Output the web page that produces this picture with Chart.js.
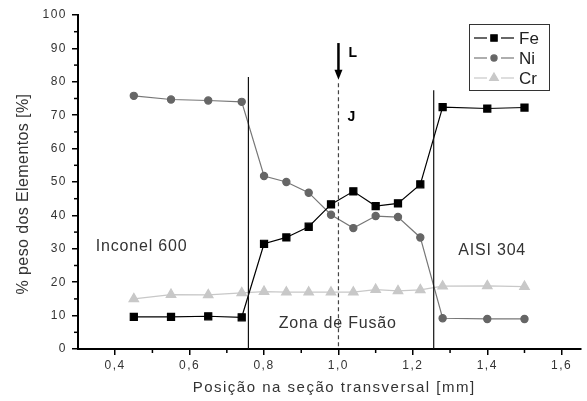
<!DOCTYPE html>
<html>
<head>
<meta charset="utf-8">
<script src="https://cdn.jsdelivr.net/npm/chart.js@4"></script>
<style>
  html, body { margin: 0; padding: 0; background: #fff; }
  #box { width: 587px; height: 401px; position: relative; }
</style>
</head>
<body>
<div id="box"><canvas id="myChart"></canvas></div>
<script>
// posição (mm) e % peso
const positions = [0.45, 0.55, 0.65, 0.74, 0.80, 0.86, 0.92, 0.98, 1.04, 1.10, 1.16, 1.22, 1.28, 1.40, 1.50];
const fe = [9.6, 9.6, 9.8, 9.5, 31.5, 33.4, 36.6, 43.3, 47.2, 42.8, 43.6, 49.3, 72.4, 72.0, 72.3];
const ni = [75.8, 74.7, 74.4, 74.0, 51.8, 50.0, 46.8, 40.2, 36.2, 39.8, 39.5, 33.4, 9.2, 9.0, 9.0];
const cr = [15.0, 16.3, 16.2, 16.8, 17.2, 17.0, 17.0, 17.0, 17.0, 17.8, 17.4, 17.7, 18.8, 18.9, 18.7];

const xTicks = [0.4, 0.6, 0.8, 1.0, 1.2, 1.4, 1.6];
const xMinor = [0.5, 0.7, 0.9, 1.1, 1.3, 1.5];
const yMinor = [5, 15, 25, 35, 45, 55, 65, 75, 85, 95];

// linhas de interface: [x, topo em %]
const interfaces = [[0.758, 81.4], [1.256, 77.5]];
const centerLine = [1.0, 79.6];
const arrowLine = [1.0, 91.6, 80.6];

const regionLabels = [
  { text: 'Inconel 600', x: 0.348, y: 30.8, align: 'left' },
  { text: 'AISI 304', x: 1.322, y: 29.6, align: 'left' },
  { text: 'Zona de Fusão', x: 0.998, y: 7.5, align: 'center' }
];

function pts(vals){
  return vals.map((v, i) => ({ x: positions[i], y: v }));
}

// ajuste fino dos títulos dos eixos (espaçamento e deslocamento)
function patchTitle(scale, spacing, dx, dy){
  if (scale._patched) return;
  const orig = scale.drawTitle;
  scale.drawTitle = function(){
    const c = this.ctx;
    c.save();
    c.letterSpacing = spacing;
    c.translate(dx, dy);
    orig.call(this);
    c.restore();
  };
  scale._patched = true;
}

const extras = {
  id: 'extras',
  afterLayout(chart){
    patchTitle(chart.scales.y, '0.4px', 0, 12);
    patchTitle(chart.scales.x, '1.5px', 5, 0);
  },
  beforeDraw(chart){
    chart.ctx.letterSpacing = '1.5px';
  },
  afterDraw(chart){
    const ctx = chart.ctx;
    const xs = chart.scales.x, ys = chart.scales.y;
    ctx.save();
    ctx.letterSpacing = '0px';
    // minor ticks
    ctx.strokeStyle = '#000';
    ctx.lineWidth = 1.5;
    xMinor.forEach(v => {
      const px = xs.getPixelForValue(v);
      ctx.beginPath(); ctx.moveTo(px, ys.bottom); ctx.lineTo(px, ys.bottom + 4); ctx.stroke();
    });
    yMinor.forEach(v => {
      const py = ys.getPixelForValue(v);
      ctx.beginPath(); ctx.moveTo(xs.left, py); ctx.lineTo(xs.left - 4, py); ctx.stroke();
    });

    // interfaces
    ctx.lineWidth = 1.2;
    ctx.strokeStyle = '#111';
    interfaces.forEach(l => {
      const px = xs.getPixelForValue(l[0]);
      ctx.beginPath(); ctx.moveTo(px, ys.getPixelForValue(l[1])); ctx.lineTo(px, ys.bottom); ctx.stroke();
    });
    // linha central tracejada
    ctx.setLineDash([4, 3]);
    ctx.strokeStyle = '#444';
    let cx = xs.getPixelForValue(centerLine[0]);
    ctx.beginPath(); ctx.moveTo(cx, ys.getPixelForValue(centerLine[1])); ctx.lineTo(cx, ys.bottom); ctx.stroke();
    ctx.setLineDash([]);

    // seta L
    const ay1 = ys.getPixelForValue(arrowLine[1]), ay2 = ys.getPixelForValue(arrowLine[2]);
    ctx.strokeStyle = '#000'; ctx.fillStyle = '#000';
    ctx.lineWidth = 2.5;
    ctx.beginPath(); ctx.moveTo(cx, ay1); ctx.lineTo(cx, ay2 - 8); ctx.stroke();
    ctx.beginPath(); ctx.moveTo(cx - 4, ay2 - 10); ctx.lineTo(cx + 4, ay2 - 10); ctx.lineTo(cx, ay2); ctx.closePath(); ctx.fill();
    ctx.font = 'bold 14px "Liberation Sans", Arial, sans-serif';
    ctx.textAlign = 'left'; ctx.textBaseline = 'middle';
    ctx.fillText('L', cx + 10, ay1 + 10);
    ctx.fillText('J', cx + 9, ys.getPixelForValue(69.5));

    // rótulos das regiões
    ctx.font = '16px "Liberation Sans", Arial, sans-serif';
    ctx.fillStyle = '#333';
    ctx.letterSpacing = '0.8px';
    regionLabels.forEach(r => {
      ctx.textAlign = r.align;
      ctx.fillText(r.text, xs.getPixelForValue(r.x), ys.getPixelForValue(r.y));
    });
    ctx.letterSpacing = '0px';

    // legenda
    const lx = 469, ly = 24, lw = 80, lh = 66;
    ctx.fillStyle = '#fff';
    ctx.fillRect(lx, ly, lw, lh);
    ctx.strokeStyle = '#333'; ctx.lineWidth = 1;
    ctx.strokeRect(lx + 0.5, ly + 0.5, lw, lh);
    ctx.font = '17px "Liberation Sans", Arial, sans-serif';
    chart.data.datasets.forEach((ds, i) => {
      const yy = ly + 14 + i * 20;
      ctx.strokeStyle = ds.borderColor; ctx.lineWidth = 1.2;
      ctx.beginPath(); ctx.moveTo(lx + 5, yy); ctx.lineTo(lx + 18, yy); ctx.stroke();
      ctx.beginPath(); ctx.moveTo(lx + 32, yy); ctx.lineTo(lx + 45, yy); ctx.stroke();
      ctx.fillStyle = ds.pointBackgroundColor;
      ctx.strokeStyle = ds.pointBackgroundColor;
      Chart.helpers.drawPoint(ctx, { pointStyle: ds.pointStyle, radius: ds.pointRadius - 0.5, borderWidth: 1 }, lx + 25, yy);
      ctx.fillStyle = '#222';
      ctx.textAlign = 'left';
      ctx.fillText(ds.label, lx + 50, yy + 1);
    });
    ctx.restore();
  }
};

const font = { family: '"Liberation Sans", Arial, sans-serif' };

new Chart(document.getElementById('myChart'), {
  type: 'line',
  data: {
    datasets: [
      { label: 'Fe', data: pts(fe), borderColor: '#000', backgroundColor: '#000', pointBackgroundColor: '#000', pointBorderColor: '#000',
        pointStyle: 'rect', pointRadius: 5, borderWidth: 1.2 },
      { label: 'Ni', data: pts(ni), borderColor: '#777', backgroundColor: '#666', pointBackgroundColor: '#666', pointBorderColor: '#666',
        pointStyle: 'circle', pointRadius: 3.6, borderWidth: 1.2 },
      { label: 'Cr', data: pts(cr), borderColor: '#c8c8c8', backgroundColor: '#c8c8c8', pointBackgroundColor: '#c8c8c8', pointBorderColor: '#c8c8c8',
        pointStyle: 'triangle', pointRadius: 5.5, borderWidth: 1.2 }
    ]
  },
  options: {
    responsive: true,
    maintainAspectRatio: false,
    animation: false,
    layout: { padding: { top: 15, right: 0, left: 0, bottom: 0 } },
    plugins: { legend: { display: false }, tooltip: { enabled: false } },
    scales: {
      x: {
        type: 'linear', min: 0.3, max: 1.65,
        afterBuildTicks: s => { s.ticks = xTicks.map(v => ({ value: v })); },
        afterFit: s => { s.height = 52; },
        ticks: { callback: v => v.toFixed(1).replace('.', ','), color: '#333', padding: 3, font: { ...font, size: 12 }, maxRotation: 0 },
        grid: { drawOnChartArea: false, drawTicks: true, tickLength: 6, color: '#000', lineWidth: 1.5 },
        border: { color: '#000', width: 2 },
        title: { display: true, text: 'Posição na seção transversal [mm]', color: '#333', font: { ...font, size: 15 }, padding: { top: 2 } }
      },
      y: {
        min: 0, max: 100,
        ticks: { stepSize: 10, color: '#333', padding: 5, font: { ...font, size: 12 } },
        afterFit: s => { s.width = 78; },
        grid: { drawOnChartArea: false, drawTicks: true, tickLength: 6, color: '#000', lineWidth: 1.5 },
        border: { color: '#000', width: 2 },
        title: { display: true, text: '% peso dos Elementos [%]', color: '#333', font: { ...font, size: 16 }, padding: { top: 14 } }
      }
    }
  },
  plugins: [extras]
});
</script>
</body>
</html>
